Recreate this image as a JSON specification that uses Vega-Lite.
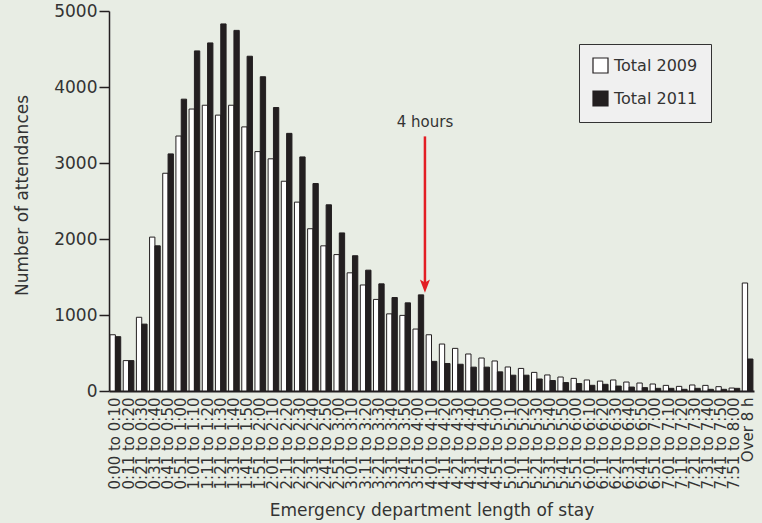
{
  "$schema": "https://vega.github.io/schema/vega-lite/v6.json",
  "width": 645,
  "height": 380,
  "autosize": {"type": "none"},
  "padding": {"left": 109, "top": 11, "right": 8, "bottom": 132},
  "background": "#e8ede4",
  "config": {
    "view": {"stroke": null},
    "font": "DejaVu Sans",
    "axis": {"labelFont": "DejaVu Sans", "titleFont": "DejaVu Sans", "labelColor": "#333333", "titleColor": "#333333", "titleFontWeight": "normal", "grid": false}
  },
  "datasets": {
    "cats": [
      {"cat": "0:00 to 0:10", "y2009": 740, "y2011": 715},
      {"cat": "0:11 to 0:20", "y2009": 400, "y2011": 400},
      {"cat": "0:21 to 0:30", "y2009": 970, "y2011": 880},
      {"cat": "0:31 to 0:40", "y2009": 2025, "y2011": 1910},
      {"cat": "0:41 to 0:50", "y2009": 2865, "y2011": 3120},
      {"cat": "0:51 to 1:00", "y2009": 3355, "y2011": 3840},
      {"cat": "1:01 to 1:10", "y2009": 3710, "y2011": 4475},
      {"cat": "1:11 to 1:20", "y2009": 3760, "y2011": 4580},
      {"cat": "1:21 to 1:30", "y2009": 3630, "y2011": 4830},
      {"cat": "1:31 to 1:40", "y2009": 3760, "y2011": 4745},
      {"cat": "1:41 to 1:50", "y2009": 3475, "y2011": 4405},
      {"cat": "1:51 to 2:00", "y2009": 3150, "y2011": 4135},
      {"cat": "2:01 to 2:10", "y2009": 3055, "y2011": 3730},
      {"cat": "2:11 to 2:20", "y2009": 2760, "y2011": 3390},
      {"cat": "2:21 to 2:30", "y2009": 2485, "y2011": 3080},
      {"cat": "2:31 to 2:40", "y2009": 2135, "y2011": 2730},
      {"cat": "2:41 to 2:50", "y2009": 1910, "y2011": 2450},
      {"cat": "2:51 to 3:00", "y2009": 1795, "y2011": 2080},
      {"cat": "3:01 to 3:10", "y2009": 1555, "y2011": 1780},
      {"cat": "3:11 to 3:20", "y2009": 1395, "y2011": 1590},
      {"cat": "3:21 to 3:30", "y2009": 1205, "y2011": 1410},
      {"cat": "3:31 to 3:40", "y2009": 1015, "y2011": 1230},
      {"cat": "3:41 to 3:50", "y2009": 995, "y2011": 1160},
      {"cat": "3:51 to 4:00", "y2009": 815, "y2011": 1265},
      {"cat": "4:01 to 4:10", "y2009": 740, "y2011": 390},
      {"cat": "4:11 to 4:20", "y2009": 618, "y2011": 362},
      {"cat": "4:21 to 4:30", "y2009": 561, "y2011": 352},
      {"cat": "4:31 to 4:40", "y2009": 487, "y2011": 314},
      {"cat": "4:41 to 4:50", "y2009": 434, "y2011": 314},
      {"cat": "4:51 to 5:00", "y2009": 395, "y2011": 252},
      {"cat": "5:01 to 5:10", "y2009": 316, "y2011": 208},
      {"cat": "5:11 to 5:20", "y2009": 297, "y2011": 208},
      {"cat": "5:21 to 5:30", "y2009": 245, "y2011": 158},
      {"cat": "5:31 to 5:40", "y2009": 211, "y2011": 138},
      {"cat": "5:41 to 5:50", "y2009": 184, "y2011": 111},
      {"cat": "5:51 to 6:00", "y2009": 166, "y2011": 98},
      {"cat": "6:01 to 6:10", "y2009": 145, "y2011": 75},
      {"cat": "6:11 to 6:20", "y2009": 130, "y2011": 88},
      {"cat": "6:21 to 6:30", "y2009": 145, "y2011": 65},
      {"cat": "6:31 to 6:40", "y2009": 118, "y2011": 52},
      {"cat": "6:41 to 6:50", "y2009": 105, "y2011": 44},
      {"cat": "6:51 to 7:00", "y2009": 92, "y2011": 35},
      {"cat": "7:01 to 7:10", "y2009": 74, "y2011": 35},
      {"cat": "7:11 to 7:20", "y2009": 61, "y2011": 22},
      {"cat": "7:21 to 7:30", "y2009": 79, "y2011": 35},
      {"cat": "7:31 to 7:40", "y2009": 74, "y2011": 22},
      {"cat": "7:41 to 7:50", "y2009": 57, "y2011": 22},
      {"cat": "7:51 to 8:00", "y2009": 39, "y2011": 35},
      {"cat": "Over 8 h", "y2009": 1421, "y2011": 421}
    ],
    "note": [
      {"cat": "3:51 to 4:00", "label": "4 hours", "top": 3350, "bottom": 1420, "head": 1380, "texty": 3470}
    ]
  },
  "encoding": {
    "x": {
      "field": "cat",
      "type": "nominal",
      "sort": null,
      "scale": {"paddingInner": 0.19, "paddingOuter": 0.08},
      "axis": {
        "title": "Emergency department length of stay",
        "titleFontSize": 17,
        "titleY": 119,
        "titleBaseline": "middle",
        "labelAngle": -90,
        "labelFontSize": 15,
        "labelPadding": 6,
        "labelOverlap": false,
        "ticks": false,
        "domainColor": "#231f20",
        "domainWidth": 2
      }
    }
  },
  "layer": [
    {
      "data": {"name": "cats"},
      "transform": [
        {"fold": ["y2009", "y2011"], "as": ["key", "value"]},
        {"lookup": "key", "from": {"data": {"values": [{"key": "y2009", "series": "Total 2009"}, {"key": "y2011", "series": "Total 2011"}]}, "key": "key", "fields": ["series"]}}
      ],
      "mark": {"type": "bar", "stroke": "#231f20", "strokeWidth": 1},
      "encoding": {
        "xOffset": {"field": "series", "type": "nominal", "scale": {"paddingInner": 0, "paddingOuter": 0}},
        "y": {
          "field": "value",
          "type": "quantitative",
          "scale": {"domain": [0, 5000], "nice": false},
          "axis": {
            "title": "Number of attendances",
            "titleFontSize": 17,
            "titleX": -87,
            "titleY": 184,
            "titleBaseline": "middle",
            "values": [0, 1000, 2000, 3000, 4000, 5000],
            "format": "d",
            "labelFontSize": 17,
            "labelPadding": 2,
            "tickSize": 10,
            "tickColor": "#231f20",
            "tickWidth": 1.5,
            "domainColor": "#231f20",
            "domainWidth": 1.5
          }
        },
        "color": {
          "field": "series",
          "type": "nominal",
          "scale": {"domain": ["Total 2009", "Total 2011"], "range": ["#ffffff", "#231f20"]},
          "legend": {
            "title": null,
            "orient": "none",
            "legendX": 470,
            "legendY": 33,
            "fillColor": "#f0f0f0",
            "strokeColor": "#333333",
            "padding": 13,
            "rowPadding": 12,
            "symbolType": "square",
            "symbolSize": 225,
            "symbolStrokeColor": "#231f20",
            "symbolStrokeWidth": 1.2,
            "symbolOpacity": 1,
            "labelFontSize": 16,
            "labelFont": "DejaVu Sans",
            "labelColor": "#333333",
            "labelOffset": 5
          }
        }
      }
    },
    {
      "data": {"name": "note"},
      "mark": {"type": "rule", "color": "#e31e24", "strokeWidth": 2.5},
      "encoding": {
        "x": {"field": "cat", "type": "nominal", "bandPosition": 1.12},
        "y": {"field": "top", "type": "quantitative"},
        "y2": {"field": "bottom"}
      }
    },
    {
      "data": {"name": "note"},
      "mark": {"type": "point", "shape": "M-0.75,-1L0,-0.55L0.75,-1L0,1Z", "filled": true, "color": "#e31e24", "size": 180, "opacity": 1},
      "encoding": {
        "x": {"field": "cat", "type": "nominal", "bandPosition": 1.12},
        "y": {"field": "head", "type": "quantitative"}
      }
    },
    {
      "data": {"name": "note"},
      "mark": {"type": "text", "fontSize": 15, "color": "#333333", "baseline": "alphabetic", "align": "center", "font": "DejaVu Sans"},
      "encoding": {
        "x": {"field": "cat", "type": "nominal", "bandPosition": 1.12},
        "y": {"field": "texty", "type": "quantitative"},
        "text": {"field": "label"}
      }
    }
  ]
}
